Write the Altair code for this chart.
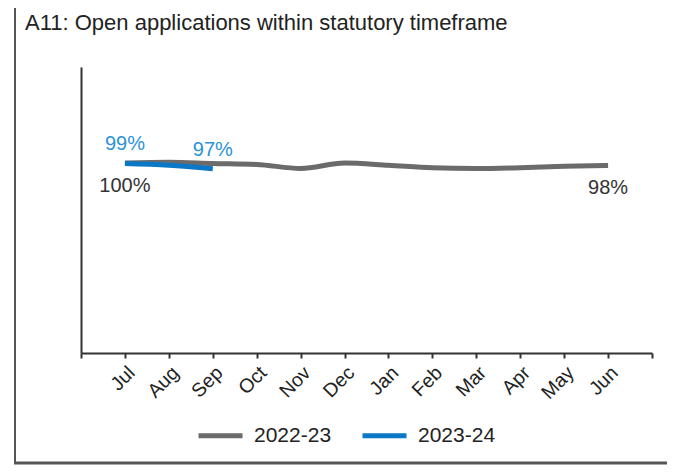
import json
import altair as alt
import pandas as pd

title_text = "A11: Open applications within statutory timeframe"
months = ["Jul", "Aug", "Sep", "Oct", "Nov", "Dec", "Jan", "Feb", "Mar", "Apr", "May", "Jun"]
series_names = ["2022-23", "2023-24"]
values_2022 = [0.996, 1.000, 0.994, 0.989, 0.968, 0.996, 0.985, 0.972, 0.968, 0.972, 0.980, 0.984]
values_2023 = [0.994, 0.985, 0.966]
labels_2022 = {0: "100%", 11: "98%"}
labels_2023 = {0: "99%", 2: "97%"}

rows = []
for i, v in enumerate(values_2022):
    rows.append({"idx": i, "month": months[i], "value": v, "series": series_names[0],
                 "label": labels_2022.get(i, "")})
for i, v in enumerate(values_2023):
    rows.append({"idx": i, "month": months[i], "value": v, "series": series_names[1],
                 "label": labels_2023.get(i, "")})
df = pd.DataFrame(rows)

FONT = "Liberation Sans"
GRAY = "#6b6b6b"
BLUE = "#0a78c6"
BLUE_TXT = "#2b93d6"

label_expr = "datum.value >= 0 && datum.value <= 11 ? " + json.dumps(months) + "[datum.value] : ''"

x_enc = alt.X("idx:Q",
              scale=alt.Scale(domain=[-1, 12], nice=False, zero=False),
              axis=alt.Axis(values=list(range(-1, 13)), labelExpr=label_expr, title=None, grid=False,
                            labelAngle=-45, labelAlign="right", labelBaseline="top",
                            labelOverlap=False, labelFlush=False, tickSize=5, tickWidth=2,
                            tickColor="#333333", domainColor="#333333", domainWidth=2,
                            labelFont=FONT, labelFontSize=19.5, labelColor="#222222",
                            labelPadding=5))
y_enc = alt.Y("value:Q",
              scale=alt.Scale(domain=[0, 1.5], nice=False, zero=True),
              axis=alt.Axis(labels=False, ticks=False, grid=False, title=None,
                            domainColor="#333333", domainWidth=2))

lines = alt.Chart(df).mark_line(strokeWidth=5, interpolate="monotone").encode(
    x=x_enc,
    y=y_enc,
    color=alt.Color("series:N",
                    scale=alt.Scale(domain=series_names, range=[GRAY, BLUE]),
                    legend=alt.Legend(orient="none", legendX=115, legendY=344, direction="horizontal",
                                      title=None, symbolType="stroke", symbolStrokeWidth=5,
                                      symbolSize=1936, labelFont=FONT, labelFontSize=21,
                                      labelColor="#222222", labelOffset=9, columnPadding=20)),
    detail="series:N",
)

lab_gray = alt.Chart(df).transform_filter(
    (alt.datum.series == series_names[0]) & (alt.datum.label != "")
).mark_text(font=FONT, fontSize=20, color="#333333", baseline="alphabetic", dy=29).encode(
    x="idx:Q", y="value:Q", text="label:N")

lab_blue = alt.Chart(df).transform_filter(
    (alt.datum.series == series_names[1]) & (alt.datum.label != "")
).mark_text(font=FONT, fontSize=20, color=BLUE_TXT, baseline="alphabetic", dy=-13).encode(
    x="idx:Q", y="value:Q", text="label:N")

one = pd.DataFrame({"k": [0]})
title = alt.Chart(one).mark_text(font=FONT, fontSize=22, color="#222222", align="left",
                                 baseline="alphabetic").encode(
    x=alt.value(-56), y=alt.value(-37), text=alt.value(title_text))
left_border = alt.Chart(one).mark_rule(color="#555555", strokeWidth=2).encode(
    x=alt.value(-66), y=alt.value(-59), y2=alt.value(397))
bottom_border = alt.Chart(one).mark_rule(color="#555555", strokeWidth=3).encode(
    x=alt.value(-67), x2=alt.value(586), y=alt.value(396))

chart = alt.layer(lines, lab_gray, lab_blue, title, left_border, bottom_border).properties(
    width=571, height=286,
    autosize=alt.AutoSizeParams(type="none"),
    padding={"left": 73, "top": 59, "right": 15, "bottom": 112},
    background="white",
).configure_view(stroke=None)

chart.save("out.html", embed_options={"renderer": "svg", "actions": False})
